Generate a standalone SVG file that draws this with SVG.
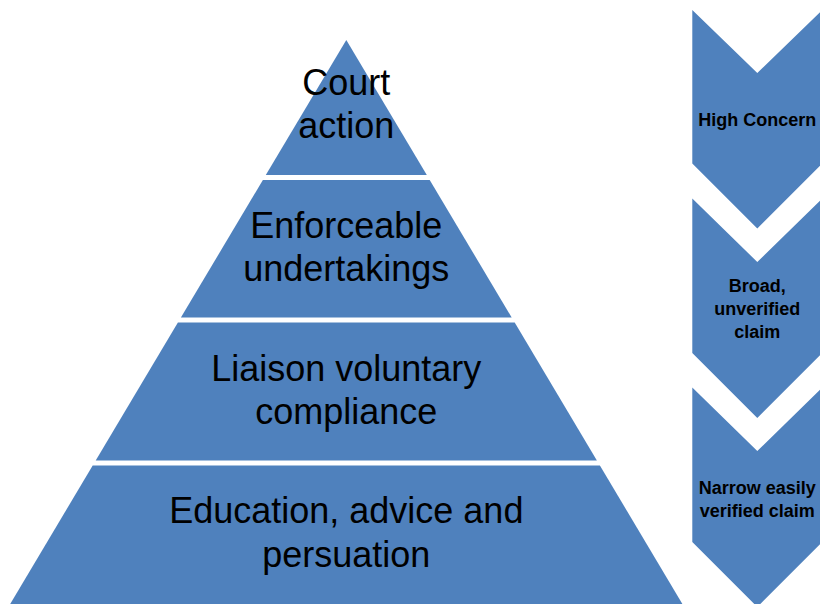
<svg xmlns="http://www.w3.org/2000/svg" width="820" height="604" viewBox="0 0 820 604">
<style>
.shape{fill:#4F81BD;stroke:none}
.lvl{font-family:"Liberation Sans",Arial,sans-serif;font-size:36px;fill:#000;text-anchor:middle}
.chv{font-family:"Liberation Sans",Arial,sans-serif;font-size:18px;font-weight:bold;fill:#000;text-anchor:middle}
</style>
<rect width="820" height="604" fill="#fff"/>
<g id="level-court">
<polygon class="shape" points="346.3,40 426.8,175 265.8,175"/>
<text class="lvl" x="346.3" y="95">Court</text>
<text class="lvl" x="346.3" y="138">action</text>
</g>
<g id="level-enforceable">
<polygon class="shape" points="262.9,180 429.7,180 511.7,317.5 180.9,317.5"/>
<text class="lvl" x="346.3" y="238">Enforceable</text>
<text class="lvl" x="346.3" y="281">undertakings</text>
</g>
<g id="level-liaison">
<polygon class="shape" points="177.9,322.5 514.7,322.5 596.9,460.5 95.7,460.5"/>
<text class="lvl" x="346.3" y="381">Liaison voluntary</text>
<text class="lvl" x="346.3" y="424">compliance</text>
</g>
<g id="level-education">
<polygon class="shape" points="92.7,465.5 599.9,465.5 682.4,604 10.2,604"/>
<text class="lvl" x="346.3" y="523">Education, advice and</text>
<text class="lvl" x="346.3" y="567">persuation</text>
</g>
<g id="chevron-high">
<polygon class="shape" points="692.3,10 757.3,73 822.3,10 822.3,163.5 757.3,228.5 692.3,163.5"/>
<text class="chv" x="757.3" y="126">High Concern</text>
</g>
<g id="chevron-broad">
<polygon class="shape" points="692.3,198.5 757.3,262 822.3,198.5 822.3,353 757.3,418 692.3,353"/>
<text class="chv" x="757.3" y="292">Broad,</text>
<text class="chv" x="757.3" y="315">unverified</text>
<text class="chv" x="757.3" y="338">claim</text>
</g>
<g id="chevron-narrow">
<polygon class="shape" points="692.3,387.5 757.3,451 822.3,387.5 822.3,542 757.3,607 692.3,542"/>
<text class="chv" x="757.3" y="494">Narrow easily</text>
<text class="chv" x="757.3" y="517">verified claim</text>
</g>
<g id="connectors"/>
</svg>
